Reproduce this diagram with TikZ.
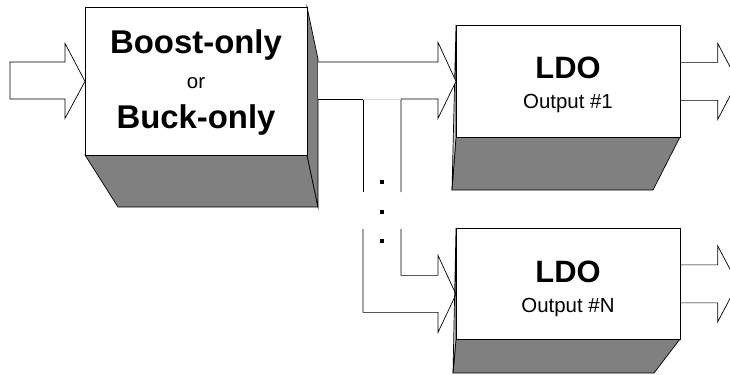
\documentclass[tikz,border=0pt]{standalone}
\usepackage{fontspec}
\setmainfont{Liberation Sans}
\usetikzlibrary{calc}
\begin{document}
\begin{tikzpicture}[x=1bp, y=-1bp, line width=0.7bp,
  dark/.style={fill=gray, draw=black},
  light/.style={fill=gray!40, draw=black},
  face/.style={draw=black, fill=white, anchor=north west, inner sep=0pt},
  big/.style={anchor=base, font=\fontsize{33}{36}\selectfont\bfseries},
  ldo/.style={anchor=base, font=\fontsize{31}{34}\selectfont\bfseries},
  sub/.style={anchor=base, font=\fontsize{20.5}{22}\selectfont}]
\useasboundingbox (0,0) rectangle (730,374);
% converter box
\draw[dark] (85,155) -- (307,155) -- (318,207) -- (118,207) -- cycle;
\draw[dark] (307,7) -- (318,59) -- (318,207) -- (307,155) -- cycle;
\node[face, minimum width=222bp, minimum height=148bp] (conv) at (85,7) {};
\node[big] (boost) at (196,53) {Boost-only};
\node[sub] (or) at (196,88) {or};
\node[big] (buck) at (196,128) {Buck-only};
% LDO boxes
\draw[dark] (456,137) -- (680,137) -- (653,190) -- (452,190) -- cycle;
\draw[light] (456,25) -- (452,190) -- (456,137) -- cycle;
\node[face, minimum width=224bp, minimum height=112bp] (ldo1) at (456,25) {};
\node[ldo] (ldo1t) at (568,78) {LDO};
\node[sub] (out1) at (568,108) {Output \#1};
\draw[dark] (456,339) -- (680,339) -- (654,373) -- (453,373) -- cycle;
\draw[light] (456,228) -- (453,373) -- (456,339) -- cycle;
\node[face, minimum width=224bp, minimum height=111bp] (ldo2) at (456,228) {};
\node[ldo] (ldo2t) at (568,282) {LDO};
\node[sub] (outN) at (568,312) {Output \#N};
% input
\coordinate (src) at (10,81);
\draw[fill=white] (src) ++(0,-19) -| ($(conv.west)+(-20,-38)$) -- (conv.west)
  -- ($(conv.west)+(-20,37)$) |- ($(src)+(0,18)$) -- cycle;
% bus to the LDOs
\fill[white] (318,62) -| ($(ldo1.west)+(-18,-39)$) -- (ldo1.west)
  -- ($(ldo1.west)+(-18,37)$) |- (318,99) -- cycle;
\draw (318,62) -| ($(ldo1.west)+(-18,-39)$) -- (ldo1.west)
  -- ($(ldo1.west)+(-18,37)$) |- (401,99) -- ++(0,93);
\draw (318,99) -| (363,192);
\draw[gray!30] (363,99) -- (401,99);
\foreach \y in {182,212,241}
  \fill (380,\y-2) rectangle ++(4,4);
\draw (401,229) |- ($(ldo2.west)+(-18,-8.5)$) -- ++(0,-20) -- ($(ldo2.west)+(0,10.5)$)
  -- ($(ldo2.west)+(-18,48.5)$) -- ++(0,-20) -| (363,229);
% outputs
\foreach \n in {ldo1,ldo2}
  \draw ($(\n.east)+(0,-19)$) -- ++(37,0) -- ++(0,-19) -- ++(20,38)
    -- ++(-20,38) -- ++(0,-19) -- ++(-37,0);
\end{tikzpicture}
\end{document}
